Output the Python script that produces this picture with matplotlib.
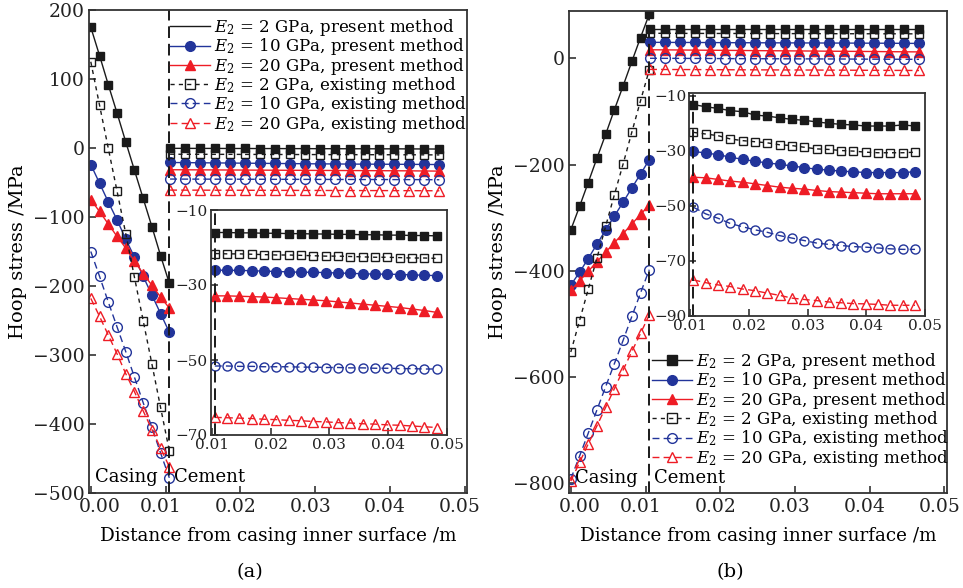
import matplotlib
matplotlib.use('Agg')
import matplotlib.pyplot as plt
import matplotlib.transforms as mtransforms
from matplotlib.lines import Line2D

plt.rcParams['font.family'] = ['DejaVu Serif']
plt.rcParams['mathtext.fontset'] = 'dejavuserif'
plt.rcParams['axes.unicode_minus'] = True

# ---------------- data ----------------
x_casing = [0.0, 0.00117, 0.00233, 0.0035, 0.00467, 0.00583, 0.007, 0.00817, 0.00933, 0.0105]
x_cement_main = [0.0106, 0.0126, 0.0146, 0.0166, 0.0186, 0.0206, 0.0226, 0.0246, 0.0266, 0.0286,
                 0.0306, 0.0326, 0.0346, 0.0366, 0.0386, 0.0406, 0.0426, 0.0446, 0.0466]
x_cement_inset = [0.0105, 0.0126, 0.0147, 0.0168, 0.0189, 0.021, 0.0231, 0.0252, 0.0273, 0.0294,
                  0.0315, 0.0336, 0.0357, 0.0378, 0.0399, 0.042, 0.0441, 0.0462, 0.0483]
interface_x = 0.0105

labels = [r'$E_2$ = 2 GPa, present method', r'$E_2$ = 10 GPa, present method',
          r'$E_2$ = 20 GPa, present method', r'$E_2$ = 2 GPa, existing method',
          r'$E_2$ = 10 GPa, existing method', r'$E_2$ = 20 GPa, existing method']

# (a) casing
a_casing = [
    [175, 134, 92, 51, 9, -32, -73, -114, -156, -196],
    [-24, -51, -78, -104, -132, -158, -186, -213, -240, -267],
    [-75, -92, -110, -128, -145, -164, -182, -199, -216, -232],
    [125, 62, 0, -62, -124, -187, -250, -313, -376, -439],
    [-150, -186, -223, -259, -295, -332, -369, -405, -442, -478],
    [-218, -244, -271, -298, -327, -353, -381, -408, -435, -462],
]
# (a) cement (main axes)
a_cement = [
    [-0.5, -0.5, -0.6, -0.6, -0.7, -0.7, -0.8, -0.8, -0.9, -0.9, -1.0, -1.0, -1.1, -1.1, -1.2, -1.2, -1.3, -1.4, -1.5],
    [-21, -21.2, -21.4, -21.6, -21.8, -22, -22.2, -22.4, -22.6, -22.8, -23, -23.1, -23.3, -23.4, -23.5, -23.6, -23.7, -23.8, -24],
    [-31.5, -31.6, -31.7, -31.8, -31.9, -32, -32.1, -32.2, -32.3, -32.4, -32.5, -32.6, -32.7, -32.8, -32.9, -33.0, -33.1, -33.3, -33.5],
    [-9, -9.1, -9.1, -9.2, -9.2, -9.3, -9.3, -9.4, -9.4, -9.5, -9.5, -9.6, -9.6, -9.7, -9.7, -9.8, -9.8, -9.9, -10],
    [-45, -45.1, -45.1, -45.2, -45.2, -45.3, -45.3, -45.4, -45.4, -45.5, -45.5, -45.6, -45.6, -45.7, -45.7, -45.8, -45.8, -45.9, -46],
    [-61, -61.1, -61.1, -61.2, -61.2, -61.3, -61.3, -61.4, -61.4, -61.5, -61.5, -61.6, -61.6, -61.7, -61.7, -61.8, -61.8, -61.9, -62],
]
# (a) inset
a_inset = [
    [-16.0, -16.0, -16.1, -16.1, -16.2, -16.2, -16.3, -16.3, -16.4, -16.4, -16.5, -16.5, -16.6, -16.6, -16.7, -16.7, -16.8, -16.8, -16.9],
    [-26.0, -26.1, -26.1, -26.2, -26.3, -26.4, -26.5, -26.6, -26.6, -26.7, -26.8, -26.9, -27.0, -27.1, -27.1, -27.2, -27.3, -27.4, -27.5],
    [-32.9, -32.9, -33.0, -33.1, -33.2, -33.4, -33.6, -33.8, -34.0, -34.2, -34.5, -34.8, -35.1, -35.4, -35.7, -36.0, -36.4, -36.8, -37.3],
    [-21.6, -21.7, -21.7, -21.8, -21.9, -22.0, -22.0, -22.1, -22.2, -22.3, -22.3, -22.4, -22.5, -22.6, -22.6, -22.7, -22.8, -22.8, -22.9],
    [-51.6, -51.6, -51.7, -51.7, -51.8, -51.8, -51.8, -51.9, -51.9, -52.0, -52.0, -52.1, -52.1, -52.2, -52.2, -52.3, -52.3, -52.4, -52.4],
    [-65.3, -65.4, -65.5, -65.6, -65.8, -65.9, -66.1, -66.2, -66.4, -66.5, -66.7, -66.8, -67.0, -67.1, -67.3, -67.4, -67.6, -67.8, -68.0],
]

# (b) casing
b_casing = [
    [-323, -279, -234, -188, -143, -97, -52, -6, 39, 83],
    [-427, -403, -377, -350, -323, -297, -271, -244, -218, -191],
    [-437, -419, -401, -383, -365, -347, -330, -312, -294, -276],
    [-553, -494, -435, -376, -316, -257, -199, -139, -80, -22],
    [-792, -749, -706, -662, -618, -575, -531, -486, -442, -398],
    [-796, -761, -726, -692, -657, -622, -587, -552, -518, -483],
]
# (b) cement (main axes)
b_cement = [
    [56, 56, 56, 56, 56, 56, 56, 56, 56, 56, 56, 56, 56, 56, 56, 56, 56, 56, 56],
    [30, 29.9, 29.8, 29.7, 29.6, 29.4, 29.3, 29.2, 29.1, 29, 28.9, 28.8, 28.7, 28.6, 28.5, 28.4, 28.3, 28.1, 28],
    [16, 15.8, 15.6, 15.3, 15.1, 14.9, 14.7, 14.4, 14.2, 14, 13.8, 13.6, 13.3, 13.1, 12.9, 12.7, 12.4, 12.2, 12],
    [47, 47, 46.9, 46.8, 46.8, 46.7, 46.7, 46.6, 46.5, 46.5, 46.4, 46.4, 46.3, 46.2, 46.2, 46.1, 46.1, 46, 46],
    [0, -0.1, -0.2, -0.3, -0.4, -0.6, -0.7, -0.8, -0.9, -1, -1.1, -1.2, -1.3, -1.4, -1.6, -1.7, -1.8, -1.9, -2],
    [-21, -21.1, -21.2, -21.3, -21.4, -21.6, -21.7, -21.8, -21.9, -22, -22.1, -22.2, -22.3, -22.4, -22.6, -22.7, -22.8, -22.9, -23],
]
# (b) inset
b_inset = [
    [-13.2, -14.0, -14.6, -15.4, -15.8, -17.0, -17.4, -18.0, -18.6, -18.9, -19.5, -20.0, -20.4, -20.6, -21.0, -21.0, -21.0, -20.6, -21.0],
    [-30.2, -30.8, -31.4, -32.3, -33.1, -33.8, -34.4, -34.9, -35.5, -36.1, -36.7, -37.0, -37.4, -37.6, -37.9, -37.9, -37.9, -37.9, -37.6],
    [-39.6, -39.8, -40.4, -41.0, -41.4, -42.0, -42.6, -43.2, -43.6, -43.9, -44.4, -44.8, -45.0, -45.2, -45.4, -45.6, -45.6, -45.6, -45.6],
    [-23.3, -23.9, -24.5, -25.7, -26.3, -26.7, -27.1, -27.8, -28.1, -28.7, -29.3, -29.5, -29.9, -30.1, -30.5, -30.7, -30.7, -30.7, -30.5],
    [-50.5, -52.9, -54.5, -56.4, -57.6, -58.7, -59.6, -60.8, -61.7, -62.6, -63.5, -64.0, -64.4, -64.8, -65.0, -65.3, -65.6, -65.8, -65.8],
    [-76.9, -77.9, -78.7, -79.3, -80.2, -80.8, -81.7, -82.5, -83.5, -84.0, -84.4, -84.9, -85.2, -85.5, -85.6, -85.8, -86.1, -86.1, -86.1],
]

# ---------------- styles ----------------
BLACK = '#1a1a1a'
BLUE = '#22349a'
RED = '#ee1c25'
styles = [
    dict(color=BLACK, ls='-', marker='s', mfc=BLACK),
    dict(color=BLUE, ls='-', marker='o', mfc=BLUE),
    dict(color=RED, ls='-', marker='^', mfc=RED),
    dict(color=BLACK, ls=(0, (3, 3)), marker='s', mfc='none'),
    dict(color=BLUE, ls=(0, (5, 3)), marker='o', mfc='none'),
    dict(color=RED, ls=(0, (5, 3)), marker='^', mfc='none'),
]
msizes_main = [6, 7, 7.5, 6, 7, 7.5]
msizes_inset = [6, 7, 7.5, 6, 6.5, 7]

W, H = 963, 588
fig = plt.figure(figsize=(W / 100, H / 100), dpi=100)

def rect(l, t, r, b):
    return [l / W, 1 - b / H, (r - l) / W, (b - t) / H]

SP_LW = 1.3
SP_COL = '#333333'

def style_axes(ax, fs):
    for s in ax.spines.values():
        s.set_linewidth(SP_LW)
        s.set_color(SP_COL)
    ax.tick_params(direction='in', length=5, width=1.1, labelsize=fs, colors='#222222',
                   top=False, right=False)

def draw_panel(main_rect, inset_rect, casing, cement, inset_vals, ylim, yticks,
               inset_ylim, inset_yticks, legend_anchor, first_handle_marker, text_y):
    ax = fig.add_axes(rect(*main_rect))
    for i in range(6):
        st = styles[i]
        ax.plot(x_casing, casing[i], color=st['color'], ls=st['ls'], lw=1.0,
                marker=st['marker'], mfc=st['mfc'], mec=st['color'], ms=msizes_main[i], mew=1.0)
        ax.plot(x_cement_main, cement[i], color=st['color'], ls=st['ls'], lw=1.0,
                marker=st['marker'], mfc=st['mfc'], mec=st['color'], ms=msizes_main[i], mew=1.0)
    ax.axvline(interface_x, color=BLACK, ls=(0, (6, 3)), lw=1.4)
    ax.set_xlim(-0.0002, 0.0503)
    ax.set_ylim(*ylim)
    ax.set_xticks([0.0, 0.01, 0.02, 0.03, 0.04, 0.05])
    ax.set_xticklabels(['0.00', '0.01', '0.02', '0.03', '0.04', '0.05'])
    ax.set_yticks(yticks)
    style_axes(ax, 13.5)
    # nudge x tick labels as in the reference
    for k, lab in enumerate(ax.get_xticklabels()):
        dx = 9 / 72 if k == 0 else -5 / 72
        lab.set_transform(lab.get_transform() +
                          mtransforms.ScaledTranslation(dx * 0.72, 0, fig.dpi_scale_trans))
    ax.set_ylabel('Hoop stress /MPa', fontsize=14, labelpad=4)
    ax.set_xlabel('Distance from casing inner surface /m', fontsize=13.2, labelpad=8)
    ax.text(0.0006, text_y, 'Casing', fontsize=13, va='baseline', ha='left',
            transform=ax.get_xaxis_transform())
    ax.text(0.0111, text_y, 'Cement', fontsize=13, va='baseline', ha='left',
            transform=ax.get_xaxis_transform())

    handles = []
    for i in range(6):
        st = styles[i]
        mk = st['marker'] if (i > 0 or first_handle_marker) else None
        handles.append(Line2D([], [], color=st['color'], ls=st['ls'], lw=1.0, marker=mk,
                              mfc=st['mfc'], mec=st['color'], ms=7, mew=1.0))
    ax.legend(handles, labels, loc='upper left', bbox_to_anchor=legend_anchor,
              bbox_transform=fig.transFigure, frameon=False, fontsize=12,
              handlelength=2.4, handletextpad=0.25, labelspacing=-0.1, borderpad=0.0,
              borderaxespad=0.0)

    ins = fig.add_axes(rect(*inset_rect))
    for i in range(6):
        st = styles[i]
        ins.plot(x_cement_inset, inset_vals[i], color=st['color'], ls=st['ls'], lw=1.0,
                 marker=st['marker'], mfc=st['mfc'], mec=st['color'], ms=msizes_inset[i], mew=1.0)
    ins.axvline(interface_x, color=BLACK, ls=(0, (6, 3)), lw=1.4)
    ins.set_xlim(0.0098, 0.0495)
    ins.set_ylim(*inset_ylim)
    ins.set_xticks([0.01, 0.02, 0.03, 0.04, 0.05])
    ins.set_xticklabels(['0.01', '0.02', '0.03', '0.04', '0.05'])
    ins.set_yticks(inset_yticks)
    style_axes(ins, 11)
    ins.tick_params(pad=2)
    return ax, ins

draw_panel((89.3, 10, 467, 493), (210.7, 210, 446.7, 435), a_casing, a_cement, a_inset,
           (-500, 200), [200, 100, 0, -100, -200, -300, -400, -500],
           (-70, -10), [-10, -30, -50, -70], (170 / W, 1 - 17 / H), False, 0.022)
draw_panel((569.3, 11, 946.7, 493.3), (689.3, 93, 925, 316), b_casing, b_cement, b_inset,
           (-819, 89), [0, -200, -400, -600, -800],
           (-90, -9), [-10, -30, -50, -70, -90], (652 / W, 1 - 351 / H), True, 0.022)

fig.text(250 / W, 1 - 572 / H, '(a)', fontsize=14, ha='center', va='center')
fig.text(730 / W, 1 - 572 / H, '(b)', fontsize=14, ha='center', va='center')

fig.savefig('out.png', dpi=100)
